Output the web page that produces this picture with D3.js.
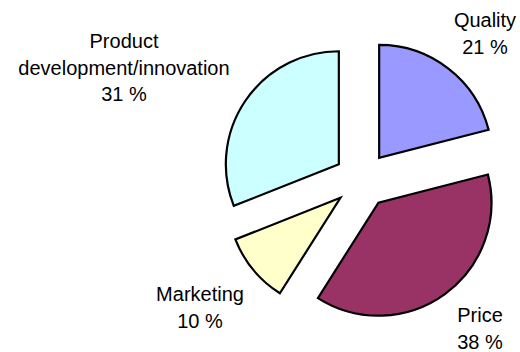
<!DOCTYPE html>
<html>
<head>
<meta charset="utf-8">
<script src="https://cdn.jsdelivr.net/npm/d3@7"></script>
<style>
  html, body { margin: 0; padding: 0; background: #fff; }
  svg { display: block; }
  text { font-family: "Liberation Sans", Arial, sans-serif; fill: #000; }
</style>
</head>
<body>
<svg id="chart" width="520" height="352"></svg>
<script>
// Share of answers per factor, in drawing order (clockwise from 12 o'clock)
const categories = ["Quality", "Price", "Marketing", "Product development/innovation"];
const shares = [21, 38, 10, 31];
const colors = ["#9999FF", "#993366", "#FFFFCC", "#CCFFFF"];
// Label lines shown next to each slice
const labelLines = [
  ["Quality", "21 %"],
  ["Price", "38 %"],
  ["Marketing", "10 %"],
  ["Product", "development/innovation", "31 %"]
];

const svg = d3.select("#chart");
const cx = 362, cy = 180;
const radius = 113;
const explode = 28;

const pie = d3.pie().sort(null).value(d => d);
const arcs = pie(shares);
const arc = d3.arc().innerRadius(0).outerRadius(radius);

const g = svg.append("g").attr("transform", `translate(${cx},${cy})`);

g.selectAll("path.slice")
  .data(arcs)
  .join("path")
  .attr("class", "slice")
  .attr("transform", d => {
    const mid = (d.startAngle + d.endAngle) / 2;
    return `translate(${explode * Math.sin(mid)},${-explode * Math.cos(mid)})`;
  })
  .attr("d", arc)
  .attr("fill", (d, i) => colors[i])
  .attr("stroke", "#000")
  .attr("stroke-width", 2.2)
  .attr("stroke-linejoin", "miter");

// Label anchors: horizontal centre and baseline of the first line
const labelPos = [
  { x: 485, y: 27 },
  { x: 480, y: 322 },
  { x: 200, y: 301 },
  { x: 124, y: 48 }
];
const lineH = 26.5;
const fontSize = 20;

labelLines.forEach((lines, i) => {
  const p = labelPos[i];
  const t = svg.append("text")
    .attr("text-anchor", "middle")
    .attr("font-size", fontSize);
  lines.forEach((s, j) => {
    t.append("tspan")
      .attr("x", p.x)
      .attr("y", p.y + j * lineH)
      .text(s);
  });
});
</script>
</body>
</html>
